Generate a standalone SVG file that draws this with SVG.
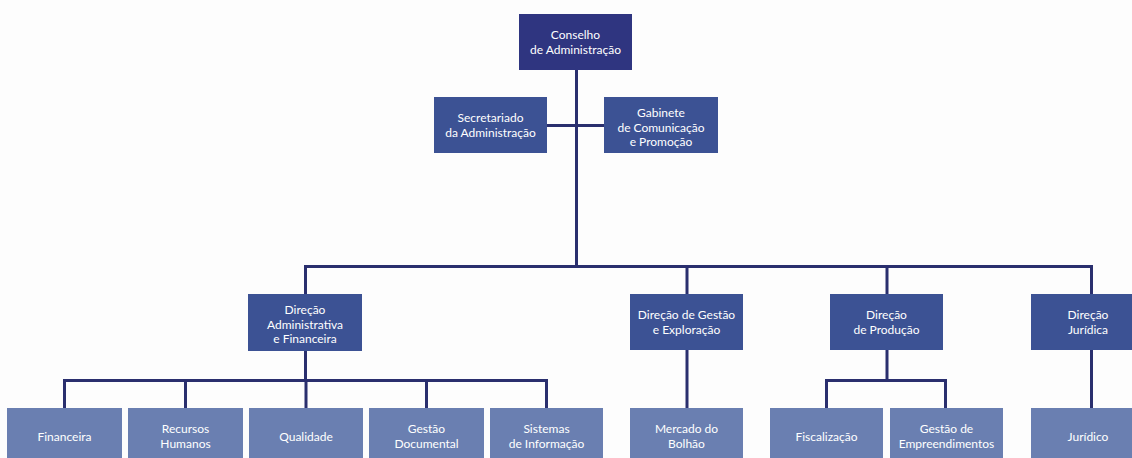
<svg xmlns="http://www.w3.org/2000/svg" width="1132" height="458" viewBox="0 0 1132 458">
<style>
.bg{fill:#fdfdfd}
.top{fill:#2f3580}
.mid{fill:#3c5294}
.low{fill:#6a7fb1}
.t{font-family:Lato,"Liberation Sans",sans-serif;font-size:12px;fill:#ffffff;text-anchor:middle}
.c{stroke:#2a2f6e;stroke-width:3;fill:none;stroke-linecap:butt}
</style>
<rect class="bg" x="0" y="0" width="1132" height="458"/>
<g id="connectors">
<path class="c" d="M576.5,70 V266"/>
<path class="c" d="M547,125.5 H604"/>
<path class="c" d="M305.5,294 V266.5 H1091.5 V294"/>
<path class="c" d="M687,266.5 V294"/>
<path class="c" d="M887,266.5 V294"/>
<path class="c" d="M305.5,351 V380.5"/>
<path class="c" d="M64.5,408 V380.5 H546.5 V408"/>
<path class="c" d="M185.5,380.5 V408"/>
<path class="c" d="M306,380.5 V408"/>
<path class="c" d="M426.5,380.5 V408"/>
<path class="c" d="M687,350 V408"/>
<path class="c" d="M887,350 V380.5"/>
<path class="c" d="M826.5,408 V380.5 H945.5 V408"/>
<path class="c" d="M1091.5,350 V408"/>
</g>
<g id="conselho"><rect class="top" x="519" y="14" width="113" height="56"/>
<text class="t" x="575.5" y="38.5">Conselho</text><text class="t" x="575.5" y="53.5">de Administração</text></g>
<g id="secretariado"><rect class="mid" x="434" y="97" width="113" height="56"/>
<text class="t" x="490.5" y="122">Secretariado</text><text class="t" x="490.5" y="137">da Administração</text></g>
<g id="gabinete"><rect class="mid" x="604" y="97" width="114" height="56"/>
<text class="t" x="661" y="117">Gabinete</text><text class="t" x="661" y="131.5">de Comunicação</text><text class="t" x="661" y="146">e Promoção</text></g>
<g id="dir-admin"><rect class="mid" x="248" y="294" width="114" height="57"/>
<text class="t" x="305" y="314">Direção</text><text class="t" x="305" y="328.5">Administrativa</text><text class="t" x="305" y="343">e Financeira</text></g>
<g id="dir-gestao"><rect class="mid" x="630" y="294" width="113" height="56"/>
<text class="t" x="686.5" y="319">Direção de Gestão</text><text class="t" x="686.5" y="334">e Exploração</text></g>
<g id="dir-producao"><rect class="mid" x="830" y="294" width="113" height="56"/>
<text class="t" x="886.5" y="319">Direção</text><text class="t" x="886.5" y="334">de Produção</text></g>
<g id="dir-juridica"><rect class="mid" x="1031" y="294" width="114" height="56"/>
<text class="t" x="1088" y="319">Direção</text><text class="t" x="1088" y="334">Jurídica</text></g>
<g id="financeira"><rect class="low" x="7" y="408" width="115" height="56"/>
<text class="t" x="64.5" y="441">Financeira</text></g>
<g id="recursos"><rect class="low" x="128" y="408" width="115" height="56"/>
<text class="t" x="185.5" y="433">Recursos</text><text class="t" x="185.5" y="448">Humanos</text></g>
<g id="qualidade"><rect class="low" x="249" y="408" width="114" height="56"/>
<text class="t" x="306" y="441">Qualidade</text></g>
<g id="gestao-doc"><rect class="low" x="369" y="408" width="115" height="56"/>
<text class="t" x="426.5" y="433">Gestão</text><text class="t" x="426.5" y="448">Documental</text></g>
<g id="sistemas"><rect class="low" x="490" y="408" width="113" height="56"/>
<text class="t" x="546.5" y="433">Sistemas</text><text class="t" x="546.5" y="448">de Informação</text></g>
<g id="mercado"><rect class="low" x="630" y="408" width="113" height="56"/>
<text class="t" x="686.5" y="433">Mercado do</text><text class="t" x="686.5" y="448">Bolhão</text></g>
<g id="fiscalizacao"><rect class="low" x="770" y="408" width="113" height="56"/>
<text class="t" x="826.5" y="441">Fiscalização</text></g>
<g id="empreendimentos"><rect class="low" x="890" y="408" width="113" height="56"/>
<text class="t" x="946.5" y="433">Gestão de</text><text class="t" x="946.5" y="448">Empreendimentos</text></g>
<g id="juridico"><rect class="low" x="1031" y="408" width="114" height="56"/>
<text class="t" x="1088" y="441">Jurídico</text></g>
</svg>
